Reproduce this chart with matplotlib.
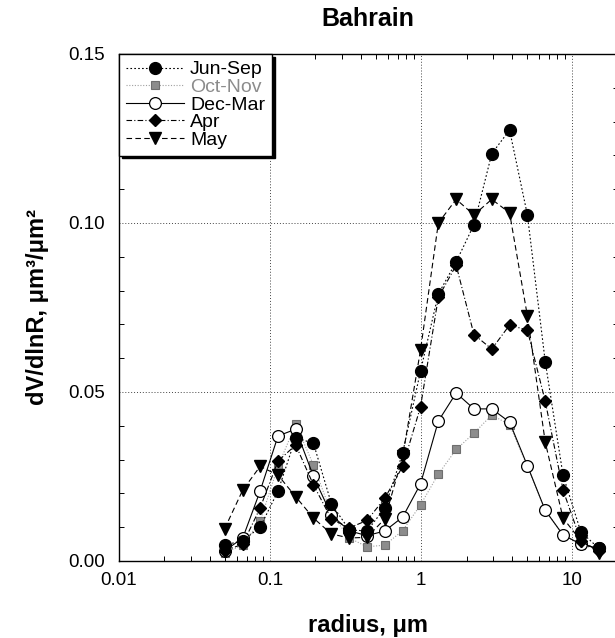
import matplotlib
matplotlib.use("Agg")
import matplotlib.pyplot as plt
from matplotlib.ticker import FixedLocator, MultipleLocator, LogLocator, NullFormatter

plt.rcParams['font.family'] = ['Liberation Sans', 'DejaVu Sans']

# radius bins (um) and dV/dlnR (um^3/um^2) per season
radius = [0.050, 0.066, 0.086, 0.113, 0.148, 0.194, 0.255, 0.335, 0.439, 0.576, 0.756,
          0.992, 1.302, 1.708, 2.241, 2.940, 3.857, 5.061, 6.641, 8.713, 11.432, 15.000]

jun_sep = [0.0047, 0.0060, 0.0100, 0.0207, 0.0365, 0.0348, 0.0169, 0.0092, 0.0089, 0.0157, 0.0320,
           0.0562, 0.0790, 0.0885, 0.0995, 0.1205, 0.1275, 0.1024, 0.0590, 0.0254, 0.0086, 0.0038]
oct_nov = [0.0024, 0.0047, 0.0118, 0.0280, 0.0405, 0.0284, 0.0140, 0.0068, 0.0042, 0.0047, 0.0090,
           0.0166, 0.0257, 0.0330, 0.0378, 0.0432, 0.0403, 0.0280, 0.0150, 0.0077, 0.0047, 0.0035]
dec_mar = [0.0030, 0.0068, 0.0207, 0.0370, 0.0390, 0.0250, 0.0136, 0.0089, 0.0075, 0.0089, 0.0130,
           0.0228, 0.0414, 0.0497, 0.0450, 0.0450, 0.0411, 0.0282, 0.0150, 0.0077, 0.0050, 0.0037]
apr = [0.0030, 0.0050, 0.0157, 0.0296, 0.0343, 0.0225, 0.0124, 0.0098, 0.0120, 0.0186, 0.0280,
       0.0456, 0.0780, 0.0875, 0.0670, 0.0627, 0.0698, 0.0683, 0.0473, 0.0210, 0.0060, 0.0030]
may = [0.0095, 0.0210, 0.0280, 0.0254, 0.0190, 0.0127, 0.0080, 0.0068, 0.0070, 0.0125, 0.0310,
       0.0624, 0.1000, 0.1070, 0.1024, 0.1070, 0.1030, 0.0725, 0.0352, 0.0127, 0.0060, 0.0025]

x_ticks = [0.01, 0.1, 1, 10]
x_ticklabels = ['0.01', '0.1', '1', '10']
y_ticks = [0.00, 0.05, 0.10, 0.15]
y_ticklabels = ['0.00', '0.05', '0.10', '0.15']

fig = plt.figure(figsize=(6.15, 6.38), dpi=100)
ax = fig.add_axes([0.1935, 0.1207, 0.8106, 0.7947])

ax.plot(radius, jun_sep, color='black', ls=(0, (1.5, 2)), lw=0.8,
        marker='o', ms=8.5, mfc='black', mec='black', label='Jun-Sep', zorder=5)
ax.plot(radius, oct_nov, color='#a0a0a0', ls=(0, (1, 1.5)), lw=0.8,
        marker='s', ms=6, mfc='#8c8c8c', mec='#6e6e6e', mew=0.8, label='Oct-Nov', zorder=4)
ax.plot(radius, dec_mar, color='black', ls='-', lw=0.8,
        marker='o', ms=8.5, mfc='white', mec='black', mew=0.9, label='Dec-Mar', zorder=4)
ax.plot(radius, apr, color='black', ls=(0, (5, 2, 1, 2)), lw=0.8,
        marker='D', ms=6, mfc='black', mec='black', label='Apr', zorder=4)
ax.plot(radius, may, color='black', ls=(0, (5, 3)), lw=0.8,
        marker='v', ms=8.5, mfc='black', mec='black', label='May', zorder=4)

ax.set_xscale('log')
ax.set_xlim(0.01, 20)
ax.set_ylim(0, 0.15)

ax.xaxis.set_major_locator(FixedLocator(x_ticks))
ax.set_xticklabels(x_ticklabels)
ax.xaxis.set_minor_locator(LogLocator(base=10, subs=range(2, 10)))
ax.xaxis.set_minor_formatter(NullFormatter())
ax.yaxis.set_major_locator(FixedLocator(y_ticks))
ax.set_yticklabels(y_ticklabels)
ax.yaxis.set_minor_locator(MultipleLocator(0.01))

ax.tick_params(which='both', direction='in', top=True, right=True, labelsize=13.5)
ax.tick_params(which='major', length=0, pad=8)
ax.tick_params(which='minor', length=3.5, width=0.7)
ax.tick_params(axis='y', which='major', pad=10)

ax.grid(True, which='major', ls=(0, (1, 2)), lw=0.7, color='#444444')

for s in ax.spines.values():
    s.set_linewidth(1.0)

ax.set_title('Bahrain', fontsize=18, fontweight='bold', pad=20)
ax.set_xlabel('radius, μm', fontsize=17, fontweight='bold', labelpad=18)
ax.set_ylabel('dV/dlnR, μm³/μm²', fontsize=17, fontweight='bold', labelpad=14)

leg = ax.legend(loc='upper left', borderaxespad=0, fontsize=14, handlelength=3,
                fancybox=False, framealpha=1, edgecolor='black',
                shadow={'color': 'black', 'alpha': 1}, labelspacing=0.0,
                handletextpad=0.3, borderpad=0.35)
leg.get_frame().set_linewidth(1.0)
leg.get_texts()[1].set_color('#8c8c8c')

fig.savefig('out.png', dpi=100)
